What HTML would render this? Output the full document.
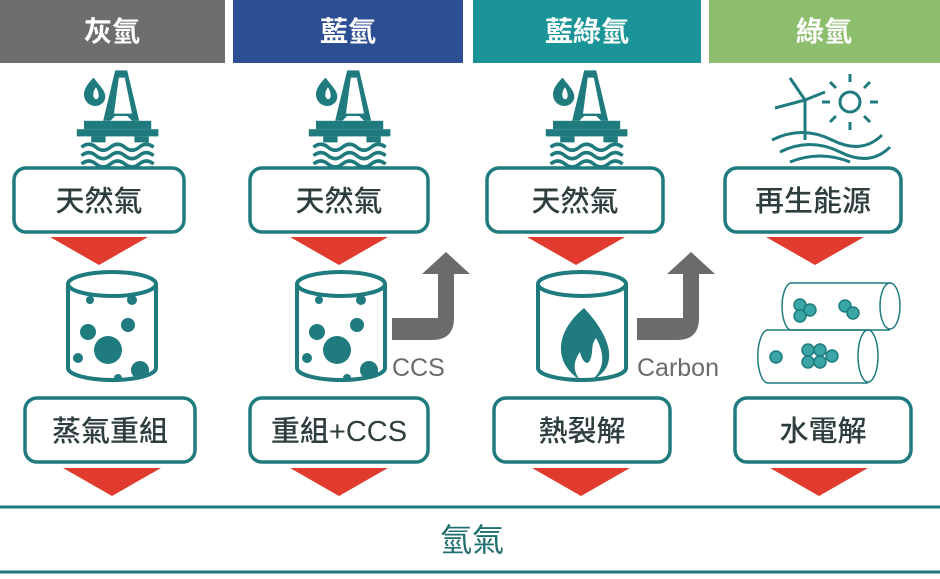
<!DOCTYPE html>
<html><head><meta charset="utf-8"><style>
body{margin:0;background:#fff;width:940px;height:579px;overflow:hidden}
svg{display:block}
text{font-family:"Liberation Sans","Noto Sans CJK TC",sans-serif}
</style></head><body>
<svg width="940" height="579" viewBox="0 0 940 579">
<defs>
<g id="rig" fill="#1f7b7e">
  <path d="M-12,-52 c-8,8 -10,14 -6,20 c4,5 12,5 15,-1 c3,-6 -3,-11 -9,-19z M-10,-44 c-3,4 -3,9 0,10 c3,0 3,-5 0,-10z" fill-rule="evenodd"/>
  <path d="M6,-58 h10 l10,42 h-6 l-4,-4 h-10 l-4,4 h-6z M9,-52 l5,0 l6,30 h-15z" fill-rule="evenodd"/>
  <rect x="-20" y="-16" width="56" height="7"/>
  <rect x="-26" y="-9" width="68" height="6"/>
  <rect x="-14" y="-3" width="12" height="5"/><rect x="22" y="-3" width="12" height="5"/>
  <path d="M-22,6 q6,-5 12,0 t12,0 t12,0 t12,0 t12,0 M-22,13 q6,-5 12,0 t12,0 t12,0 t12,0 t12,0 M-22,20 q6,-5 12,0 t12,0 t12,0 t12,0 t12,0" fill="none" stroke="#1f7b7e" stroke-width="3"/>
</g>
<g id="cyl" fill="none" stroke="#1f7b7e" stroke-width="4">
  <ellipse cx="0" cy="-44" rx="44" ry="12"/>
  <path d="M-44,-44 v84 a44,12 0 0 0 88,0 v-84"/>
</g>
</defs>
<rect x="0" y="0" width="225" height="63" fill="#6d6e70"/>
<rect x="233" y="0" width="230" height="63" fill="#2c4e93"/>
<rect x="473" y="0" width="228" height="63" fill="#1a9496"/>
<rect x="709" y="0" width="231" height="63" fill="#8cbe6e"/>
<g fill="#fff" font-size="28" font-weight="bold" text-anchor="middle">
<text x="112" y="41">灰氫</text><text x="348" y="41">藍氫</text><text x="587" y="41">藍綠氫</text><text x="824" y="41">綠氫</text>
</g>
<g transform="translate(108,140) scale(1.2)"><use href="#rig"/></g>
<g transform="translate(340,140) scale(1.2)"><use href="#rig"/></g>
<g transform="translate(577,140) scale(1.2)"><use href="#rig"/></g>
<g stroke="#1f7b7e" stroke-width="3" fill="none">
<path d="M772,140 q30,-15 60,0 t50,-5"/><path d="M780,152 q30,-15 60,0 t50,-5"/><path d="M790,162 q30,-12 60,0"/>
<line x1="805" y1="100" x2="805" y2="140"/><line x1="805" y1="100" x2="790" y2="78"/><line x1="805" y1="100" x2="775" y2="108"/><line x1="805" y1="100" x2="825" y2="92"/>
<circle cx="850" cy="102" r="10"/>
<path d="M850,82v-8M850,122v8M830,102h-8M870,102h8M836,88l-6,-6M864,88l6,-6M836,116l-6,6M864,116l6,6"/>
</g>
<g fill="#fff" stroke="#1f7b7e" stroke-width="3.5">
<rect x="14" y="168" width="170" height="64" rx="12"/>
<rect x="250" y="168" width="178" height="64" rx="12"/>
<rect x="487" y="168" width="176" height="64" rx="12"/>
<rect x="725" y="168" width="176" height="64" rx="12"/>
<rect x="25" y="398" width="170" height="64" rx="12"/>
<rect x="250" y="398" width="178" height="64" rx="12"/>
<rect x="494" y="398" width="176" height="64" rx="12"/>
<rect x="735" y="398" width="176" height="64" rx="12"/>
</g>
<g fill="#2e3d3e" font-size="29" font-weight="500" text-anchor="middle">
<text x="99" y="211">天然氣</text><text x="339" y="211">天然氣</text><text x="575" y="211">天然氣</text><text x="813" y="211">再生能源</text>
<text x="110" y="441">蒸氣重組</text><text x="339" y="441">重組+CCS</text><text x="582" y="441">熱裂解</text><text x="823" y="441">水電解</text>
</g>
<g fill="#e03b2e">
<polygon points="50,237 148,237 99,265"/><polygon points="290,237 388,237 339,265"/><polygon points="527,237 625,237 576,265"/><polygon points="766,237 864,237 815,265"/>
<polygon points="63,468 161,468 112,496"/><polygon points="290,468 388,468 339,496"/><polygon points="532,468 630,468 581,496"/><polygon points="770,468 868,468 819,496"/>
</g>
<use href="#cyl" x="112" y="328"/><use href="#cyl" x="341" y="328"/><use href="#cyl" x="582" y="328"/>
<g fill="#1f7b7e">
<circle cx="108" cy="350" r="14"/><circle cx="88" cy="332" r="8"/><circle cx="128" cy="325" r="7"/><circle cx="78" cy="358" r="5"/><circle cx="140" cy="370" r="9"/><circle cx="90" cy="300" r="4"/><circle cx="132" cy="300" r="5"/><circle cx="118" cy="378" r="4"/>
<circle cx="337" cy="350" r="14"/><circle cx="317" cy="332" r="8"/><circle cx="357" cy="325" r="7"/><circle cx="307" cy="358" r="5"/><circle cx="369" cy="370" r="9"/><circle cx="319" cy="300" r="4"/><circle cx="361" cy="300" r="5"/><circle cx="347" cy="378" r="4"/>
<path d="M584,308 c-30,25 -30,55 -4,72 c-8,-10 -6,-20 0,-28 c2,10 8,14 10,8 c4,-8 0,-14 6,-22 c8,14 10,30 -4,42 c26,-12 22,-40 -8,-72z"/>
</g>
<g fill="#6b6b6d">
<path d="M392,318 h46 v-44 h-16 l24,-22 24,22 h-16 v44 q0,22 -22,22 h-40z"/>
<path d="M637,318 h46 v-44 h-16 l24,-22 24,22 h-16 v44 q0,22 -22,22 h-40z"/>
</g>
<g fill="#6b6b6d" font-size="25"><text x="392" y="376">CCS</text><text x="637" y="376">Carbon</text></g>
<g fill="none" stroke="#1f7b7e" stroke-width="1.5">
<path d="M790,283 h100 M790,330 h100 M790,283 a10,24 0 0 0 0,47"/><ellipse cx="890" cy="306" rx="10" ry="23"/>
<path d="M768,330 h100 M768,383 h100 M768,330 a10,26 0 0 0 0,53"/><ellipse cx="868" cy="356" rx="10" ry="26"/>
</g>
<g fill="#3aa5a5" stroke="#1f7b7e" stroke-width="1.5">
<circle cx="800" cy="305" r="6"/><circle cx="810" cy="310" r="6"/><circle cx="800" cy="316" r="6"/><circle cx="845" cy="306" r="6"/><circle cx="853" cy="313" r="6"/>
<circle cx="776" cy="357" r="6"/><circle cx="808" cy="350" r="6"/><circle cx="820" cy="350" r="6"/><circle cx="808" cy="362" r="6"/><circle cx="820" cy="362" r="6"/><circle cx="832" cy="356" r="6"/>
</g>
<line x1="0" y1="507" x2="940" y2="507" stroke="#1f7b7e" stroke-width="3"/>
<line x1="0" y1="572" x2="940" y2="572" stroke="#1f7b7e" stroke-width="3"/>
<text x="472" y="551" font-size="32" fill="#1f6e70" text-anchor="middle">氫氣</text>
</svg>
</body></html>
